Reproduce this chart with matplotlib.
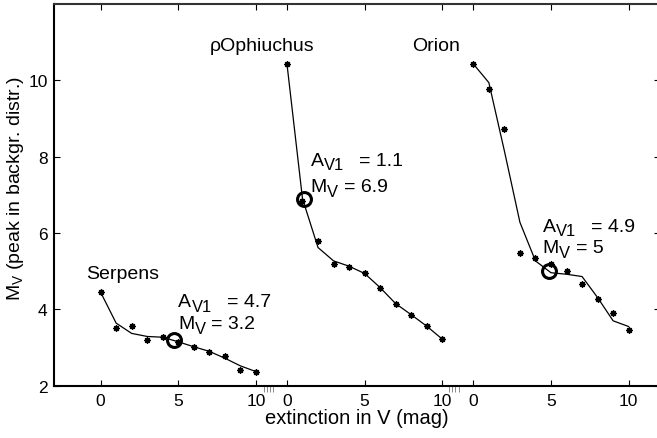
import matplotlib.pyplot as plt
from matplotlib.ticker import FixedLocator

plt.rcParams['font.family'] = ['Liberation Sans', 'DejaVu Sans']
plt.rcParams['mathtext.fontset'] = 'custom'
plt.rcParams['mathtext.rm'] = 'Liberation Sans'
plt.rcParams['mathtext.it'] = 'Liberation Sans'

# extinction steps (mag) per region
extinction = list(range(11))

# peak of background distribution, measured points
serpens_pts = [4.45, 3.52, 3.56, 3.20, 3.27, 3.15, 3.02, 2.89, 2.79, 2.42, 2.37]
oph_pts = [10.43, 6.85, 5.78, 5.19, 5.10, 4.94, 4.56, 4.14, 3.86, 3.57, 3.22]
orion_pts = [10.43, 9.77, 8.72, 5.47, 5.34, 5.18, 5.01, 4.66, 4.27, 3.90, 3.47]

# smoothed curves
serpens_fit = [4.45, 3.64, 3.37, 3.29, 3.27, 3.15, 3.02, 2.90, 2.72, 2.52, 2.37]
oph_fit = [10.43, 6.90, 5.62, 5.27, 5.13, 4.94, 4.57, 4.15, 3.86, 3.56, 3.22]
orion_fit = [10.43, 9.94, 8.15, 6.28, 5.27, 4.96, 4.92, 4.86, 4.31, 3.70, 3.55]

regions = ['Serpens', 'ρOphiuchus', 'Orion']
offsets = [0, 12, 24]
av1 = [4.7, 1.1, 4.9]
mv_peak = [3.2, 6.9, 5.0]

# label placement: (name x, name baseline, annotation x, line 1 baseline, line 2 baseline)
label_pos = [(-0.94, 4.81, 5.0, 4.09, 3.50),
             (7.0, 10.79, 13.53, 7.79, 7.09),
             (20.05, 10.8, 28.47, 6.06, 5.49)]

FS = 14


def sub_label(ax, x, y, main, sub, rest, gap):
    # main letter, lowered subscript, then the rest on the main baseline
    t1 = ax.text(x, y, main, fontsize=FS, ha='left', va='baseline')
    t2 = ax.annotate(sub, xy=(1, 0), xycoords=t1, xytext=(0.2, -2.6),
                     textcoords='offset points', fontsize=FS * 0.85,
                     ha='left', va='bottom')
    ax.annotate(rest, xy=(1, 0), xycoords=(t2, t1), xytext=(gap, 0),
                textcoords='offset points', fontsize=FS, ha='left', va='bottom')


fig = plt.figure(figsize=(6.57, 4.39), dpi=100)
ax = fig.add_axes([54 / 657, 52.3 / 439, 605.7 / 657, 381.7 / 439])

star = (8, 2, 0)
for pts, fit, off, a, m, name, pos in zip(
        [serpens_pts, oph_pts, orion_pts], [serpens_fit, oph_fit, orion_fit],
        offsets, av1, mv_peak, regions, label_pos):
    xs = [x + off for x in extinction]
    ax.plot(xs, fit, '-', color='black', lw=0.9)
    ax.plot(xs, pts, linestyle='none', marker=star, ms=4.5, mec='black', mew=1.0)
    ax.plot(a + off, m, 'o', ms=10, mfc='none', mec='black', mew=2.2)
    ax.text(pos[0], pos[1], name, fontsize=FS, ha='left', va='baseline')
    sub_label(ax, pos[2], pos[3], 'A', 'V1', '= {:g}'.format(a), 11)
    sub_label(ax, pos[2], pos[4], 'M', 'V', '= {:g}'.format(m), 4)

ax.set_xlim(-3, 36)
ax.set_ylim(2, 12)

xticks = []
xlabels = []
for off in offsets:
    for t in [0, 5, 10]:
        xticks.append(off + t)
        xlabels.append(str(t))
ax.set_xticks(xticks)
ax.set_xticklabels(xlabels)
ax.set_yticks([2, 4, 6, 8, 10])

# little grey marks just past the end of each of the first two panels
ax.xaxis.set_minor_locator(FixedLocator([10.5, 10.7, 10.9, 11.1, 22.45, 22.65, 22.85, 23.05]))
ax.tick_params(which='major', direction='in', top=True, right=True, length=4, width=0.8,
               labelsize=12.5)
ax.tick_params(axis='x', which='major', pad=5)
ax.tick_params(axis='y', which='major', pad=4.5)
ax.tick_params(axis='x', which='minor', direction='out', top=False, bottom=True,
               length=4.5, width=0.7, color='#888888')

for side in ['left', 'bottom', 'top', 'right']:
    ax.spines[side].set_linewidth(1.5)
ax.spines['top'].set_color('#333333')

ax.set_xlabel('extinction in V (mag)', fontsize=14.5, labelpad=0)
ax.set_ylabel(r'M$_{\mathrm{V}}$ (peak in backgr. distr.)', fontsize=14)
ax.yaxis.set_label_coords(-0.046, 0.52)

fig.savefig('out.png', dpi=100)
